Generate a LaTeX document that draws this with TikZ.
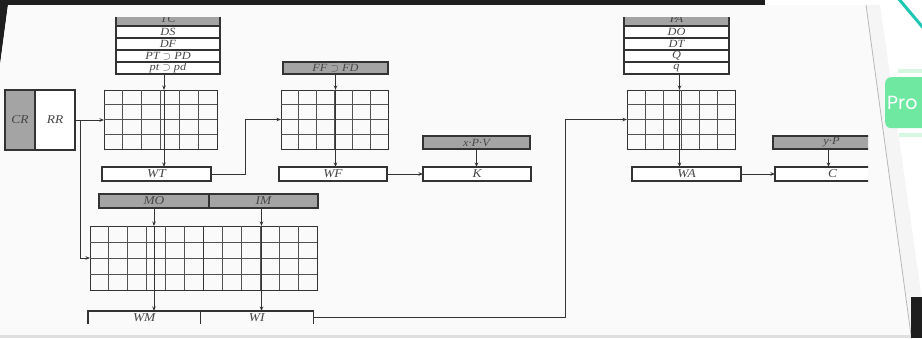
\documentclass[tikz,border=0pt]{standalone}
\usepackage{fontspec}
\setmainfont[FakeStretch=1.12]{Liberation Serif}
\newfontfamily\badgefont{Poppins}
\usetikzlibrary{arrows.meta,calc}
\definecolor{ink}{HTML}{333333}
\definecolor{shadefill}{HTML}{A4A4A4}
\definecolor{paperc}{HTML}{FAFAFA}
\definecolor{darkbg}{HTML}{1E1E1E}
\definecolor{tealline}{HTML}{1CC7B4}
\definecolor{badgec}{HTML}{6FE8A2}
\definecolor{badgelight}{HTML}{D6F7E2}
\newcommand\mkbox[7]{\node[#1, anchor=north west, minimum width={(#5-#3)*1pt}, minimum height={(#6-#4)*1pt}] (#2) at (#3,#4) {#7};}
\newcommand\gridlines[3]{%
  \foreach \i in {1,...,#2}{\ifnum\i<#2\relax
    \draw[gridln] ($(#1.north west)!{\i/#2}!(#1.north east)$) -- ($(#1.south west)!{\i/#2}!(#1.south east)$);\fi}
  \foreach \j in {1,...,#3}{\ifnum\j<#3\relax
    \draw[gridln] ($(#1.north west)!{\j/#3}!(#1.south west)$) -- ($(#1.north east)!{\j/#3}!(#1.south east)$);\fi}}
\begin{document}
\begin{tikzpicture}[x=1pt,y=-1pt,
  box/.style={draw=ink, line width=1.1pt, fill=white, inner sep=0pt, outer sep=0pt,
    font=\fontsize{11}{11}\selectfont\itshape, text=ink!90},
  bigbox/.style={box, font=\fontsize{12}{12}\selectfont\itshape},
  gbox/.style={box, fill=shadefill},
  biggbox/.style={bigbox, fill=shadefill},
  gridbox/.style={draw=ink, line width=1pt, inner sep=0pt, outer sep=0pt},
  gridln/.style={draw=ink!85, line width=0.9pt},
  conn/.style={draw=ink, line width=1pt},
  arr/.style={conn, -{Stealth[length=4.5pt,width=3.5pt]}},
  lbl/.style={inner sep=0pt, font=\fontsize{12}{12}\selectfont\itshape, text=ink!90},
]
\clip (0,0) rectangle (922,338);
% ---- background: screenshot surroundings ----
\fill[white] (0,0) rectangle (922,338);
\fill[black!4] (866,5) -- (880,5) -- (922,300) -- (922,338) -- (911,338) -- cycle;
\fill[darkbg] (0,0) rectangle (765,5);
\fill[darkbg] (0,0) -- (8,5) -- (0,65) -- cycle;
\fill[paperc] (8,5) -- (866,5) -- (911,335) -- (0,335) -- (0,65) -- cycle;
\draw[black!28, line width=0.8pt] (866,5) -- (911,335);
\fill[black!12] (0,335) rectangle (922,338);
\fill[darkbg] (911,297) rectangle (922,338);
\draw[tealline, line width=3pt] (898,-2) -- (925,30);
\fill[badgelight] (898,69) rectangle (922,73);
\fill[badgelight] (899,133) rectangle (922,137);
\node[fill=badgec, rounded corners=6pt, anchor=north west, minimum width=50pt, minimum height=51pt,
  inner sep=0pt] (badge) at (885,77) {};
\node[anchor=west, inner sep=0pt, text=white, font=\badgefont\fontsize{19}{19}\selectfont] (pro) at (887,103) {Pro};

% ---- left stack ----
\begin{scope}
  \clip (100,17) rectangle (240,27);
  \mkbox{gbox}{TC}{116}{12}{220}{26}{TC}
\end{scope}
\mkbox{box}{DS}{116}{26}{220}{38}{DS}
\mkbox{box}{DF}{116}{38}{220}{50}{DF}
\mkbox{box}{PTPD}{116}{50}{220}{62}{PT $\supset$ PD}
\mkbox{box}{ptpd}{116}{62}{220}{74}{pt $\supset$ pd}

% ---- CR / RR ----
\mkbox{biggbox}{CR}{5}{90}{35}{150}{CR}
\mkbox{bigbox}{RR}{35}{90}{75}{150}{RR}

% ---- grid 1 and WT ----
\mkbox{gridbox}{g1}{104}{90}{217}{149}{}
\gridlines{g1}{6}{4}
\mkbox{bigbox}{WT}{102}{167}{211}{181}{WT}

% ---- middle column ----
\mkbox{gbox}{FF}{283}{62}{388}{74}{FF $\supset$ FD}
\mkbox{gridbox}{gF}{281}{90}{388}{149}{}
\gridlines{gF}{6}{4}
\mkbox{bigbox}{WF}{279}{167}{387}{181}{WF}
\mkbox{gbox}{xPV}{423}{136}{530}{149}{x·P·V}
\mkbox{bigbox}{K}{423}{167}{531}{181}{K}

% ---- MO / IM and grid 2 ----
\mkbox{biggbox}{MO}{99}{194}{209}{208}{MO}
\mkbox{biggbox}{IM}{209}{194}{318}{208}{IM}
\mkbox{gridbox}{g2}{90}{226}{317}{290}{}
\gridlines{g2}{12}{4}
\draw[conn, line width=1.4pt] (g2.north) -- (g2.south);
\mkbox{lbl}{WM}{88}{311}{200}{324}{WM}
\mkbox{lbl}{WI}{200}{311}{313}{324}{WI}
\draw[conn, line width=1.1pt] (WM.south west) -- (WM.north west) -- (WI.north east) -- (WI.south east);
\draw[conn, line width=1.3pt] (WM.north east) -- (WM.south east);

% ---- right stack ----
\begin{scope}
  \clip (600,17) rectangle (760,27);
  \mkbox{gbox}{PA}{624}{12}{729}{26}{PA}
\end{scope}
\mkbox{box}{DO}{624}{26}{729}{38}{DO}
\mkbox{box}{DT}{624}{38}{729}{50}{DT}
\mkbox{box}{Q}{624}{50}{729}{62}{Q}
\mkbox{box}{q}{624}{62}{729}{74}{q}
\mkbox{gridbox}{g3}{627}{90}{735}{149}{}
\gridlines{g3}{6}{4}
\mkbox{bigbox}{WA}{632}{167}{741}{181}{WA}
\begin{scope}
  \clip (0,0) rectangle (868,338);
  \mkbox{gbox}{yP}{773}{136}{890}{149}{y·P}
  \mkbox{bigbox}{C}{775}{167}{890}{181}{C}
\end{scope}

% ---- connectors ----
\coordinate (a1) at ($(ptpd.south)+(-4,0)$);
\draw[arr] (a1) -- (a1 |- g1.north);
\draw[arr] (a1 |- g1.north) -- (a1 |- WT.north);
\draw[arr] (RR.east) -- (RR.east -| g1.west);
\coordinate (br) at ($(RR.east)+(5,0)$);
\draw[arr] (br) |- (g2.west);
\draw[arr] (WT.east) -- ++(34,0) |- (gF.west);
\draw[arr] (FF.south) -- (FF.south |- gF.north);
\draw[arr] (FF.south |- gF.north) -- (FF.south |- WF.north);
\draw[arr] (WF.east) -- (K.west);
\draw[arr] (xPV.south) -- (xPV.south |- K.north);
\draw[arr] (MO.south) -- (MO.south |- g2.north);
\draw[arr] (MO.south |- g2.north) -- (MO.south |- WM.north);
\coordinate (a2) at ($(IM.south)+(-2,0)$);
\draw[arr] (a2) -- (a2 |- g2.north);
\draw[arr] (a2 |- g2.north) -- (a2 |- WI.north);
\draw[arr] (WI.east) -- ++(252,0) |- (g3.west);
\coordinate (a3) at ($(q.south)+(3,0)$);
\draw[arr] (a3) -- (a3 |- g3.north);
\draw[arr] (a3 |- g3.north) -- (a3 |- WA.north);
\draw[arr] (WA.east) -- (C.west);
\coordinate (a4) at ($(yP.south)+(-3,0)$);
\draw[arr] (a4) -- (a4 |- C.north);
\end{tikzpicture}
\end{document}
